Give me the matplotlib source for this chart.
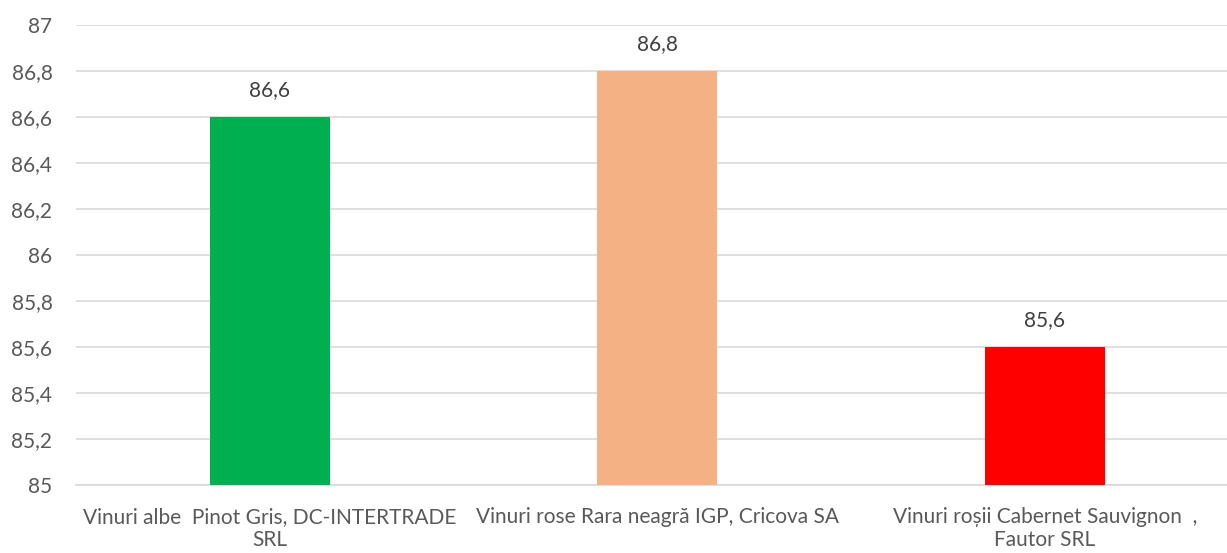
# Grafic cu bare: punctaj vinuri
import matplotlib.pyplot as plt
from matplotlib.ticker import FuncFormatter

# Date
categorii = [
    "Vinuri albe  Pinot Gris, DC-INTERTRADE\nSRL",
    "Vinuri rose Rara neagră IGP, Cricova SA",
    "Vinuri roșii Cabernet Sauvignon  ,\nFautor SRL",
]
valori = [86.6, 86.8, 85.6]
culori = ["#00B050", "#F4B183", "#FF0000"]
ticks_y = [85, 85.2, 85.4, 85.6, 85.8, 86, 86.2, 86.4, 86.6, 86.8, 87]

plt.rcParams["font.family"] = ["Lato", "DejaVu Sans"]
text_color = "#595959"

fig = plt.figure(figsize=(12.27, 5.53), dpi=100)
ax = fig.add_axes([76 / 1227, 68 / 553, 1 - 76 / 1227, 460 / 553])

x = range(len(categorii))
ax.bar(x, valori, width=0.31, color=culori, zorder=3)

for xi, v in zip(x, valori):
    ax.text(xi, v + 0.075, f"{v:.1f}".replace(".", ","), ha="center", va="bottom",
            fontsize=15, color="#404040")

ax.set_ylim(85, 87)
ax.set_xlim(-0.5, 2.47)
ax.set_yticks(ticks_y)
ax.yaxis.set_major_formatter(FuncFormatter(lambda v, p: f"{v:g}".replace(".", ",")))
ax.grid(axis="y", color="#D9D9D9", linewidth=1.2, zorder=0)

ax.set_xticks(list(x))
ax.set_xticklabels(categorii, fontsize=15, color=text_color, linespacing=1.15)
ax.tick_params(axis="y", labelsize=15, labelcolor=text_color, length=0, pad=17)
ax.tick_params(axis="x", length=0, pad=16)

for s in ["top", "right", "left"]:
    ax.spines[s].set_visible(False)
ax.spines["bottom"].set_color("#D9D9D9")
ax.spines["bottom"].set_linewidth(1.2)

fig.savefig("out.png", dpi=100)
